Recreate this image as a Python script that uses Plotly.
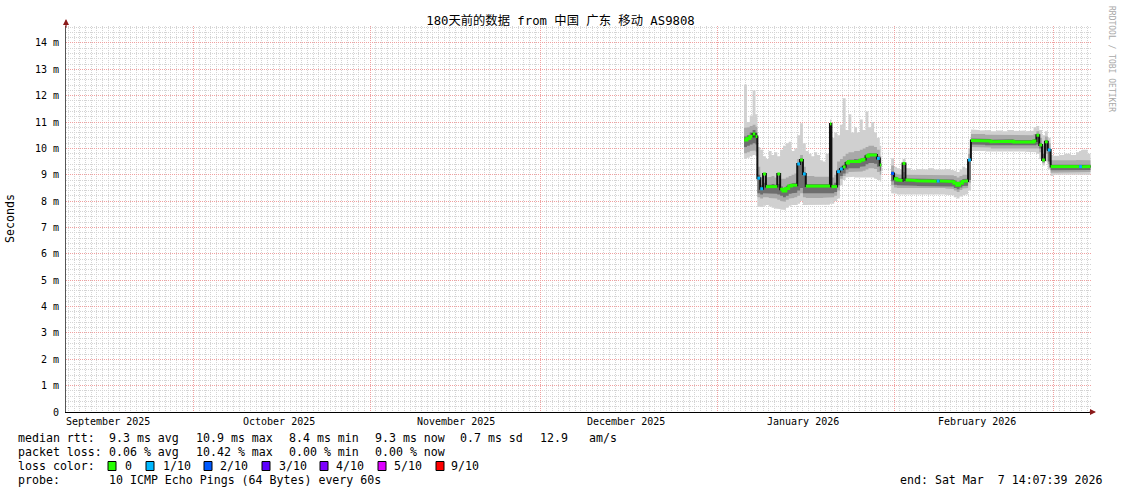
import plotly.graph_objects as go

# ---------------- data ----------------
title_text = "180天前的数据 from 中国 广东 移动 AS9808"
x_start = "2025-09-08 14:07:39"
x_end = "2026-03-07 14:07:39"

month_labels = ["September 2025", "October 2025", "November 2025",
                "December 2025", "January 2026", "February 2026"]
month_label_pos = ["2025-09-16", "2025-10-16", "2025-11-16",
                   "2025-12-16", "2026-01-16", "2026-02-15 12:00"]
month_starts = ["2025-10-01", "2025-11-01", "2025-12-01",
                "2026-01-01", "2026-02-01", "2026-03-01"]

y_tick_vals = list(range(15))
y_tick_text = ["0"] + [f"{v} m" for v in range(1, 15)]

# step intervals: value i holds from times[i] to times[i+1]; None = no data
times = [
    "2026-01-05 16:00", "2026-01-06 04:00", "2026-01-06 16:00", "2026-01-07 04:00", "2026-01-07 16:00",
    "2026-01-08 00:00", "2026-01-08 12:00", "2026-01-09 00:00", "2026-01-09 12:00", "2026-01-10 00:00",
    "2026-01-10 12:00", "2026-01-11 00:00", "2026-01-11 12:00", "2026-01-12 00:00", "2026-01-12 12:00",
    "2026-01-13 00:00", "2026-01-13 12:00", "2026-01-14 00:00", "2026-01-14 12:00", "2026-01-15 00:00",
    "2026-01-15 12:00", "2026-01-16 00:00", "2026-01-16 12:00", "2026-01-17 00:00", "2026-01-17 12:00",
    "2026-01-18 00:00", "2026-01-18 12:00", "2026-01-19 00:00", "2026-01-19 12:00", "2026-01-20 00:00",
    "2026-01-20 12:00", "2026-01-20 18:00", "2026-01-21 00:00", "2026-01-21 12:00",
    "2026-01-22 00:00", "2026-01-22 12:00", "2026-01-23 00:00", "2026-01-23 12:00", "2026-01-24 00:00",
    "2026-01-24 12:00", "2026-01-25 00:00", "2026-01-25 12:00", "2026-01-26 00:00", "2026-01-26 12:00",
    "2026-01-27 00:00", "2026-01-27 12:00", "2026-01-28 00:00", "2026-01-28 12:00", "2026-01-29 00:00",
    "2026-01-29 12:00", "2026-01-29 18:00",
    "2026-01-31 12:00", "2026-02-01 00:00", "2026-02-01 12:00", "2026-02-02 00:00", "2026-02-02 12:00",
    "2026-02-03 00:00", "2026-02-04 00:00", "2026-02-05 00:00", "2026-02-06 00:00", "2026-02-07 00:00",
    "2026-02-08 00:00", "2026-02-08 12:00", "2026-02-09 00:00", "2026-02-10 00:00", "2026-02-11 00:00",
    "2026-02-11 12:00", "2026-02-12 00:00", "2026-02-12 12:00", "2026-02-13 00:00", "2026-02-13 12:00",
    "2026-02-14 00:00",
    "2026-02-14 12:00", "2026-02-15 00:00", "2026-02-16 00:00", "2026-02-17 00:00", "2026-02-18 00:00",
    "2026-02-19 00:00", "2026-02-20 00:00", "2026-02-21 00:00", "2026-02-22 00:00", "2026-02-23 00:00",
    "2026-02-24 00:00", "2026-02-25 00:00", "2026-02-25 12:00", "2026-02-26 00:00", "2026-02-26 12:00",
    "2026-02-27 00:00", "2026-02-27 12:00", "2026-02-28 00:00",
    "2026-02-28 12:00", "2026-03-01 00:00", "2026-03-02 00:00", "2026-03-03 00:00", "2026-03-04 00:00",
    "2026-03-05 00:00", "2026-03-05 12:00", "2026-03-06 00:00", "2026-03-07 00:00", "2026-03-07 12:00",
]

median = [
    10.32, 10.38, 10.45, 10.55, 10.45,
    8.87, 8.47, 9.03, 8.55, 8.55, 8.57, 8.55, 9.03, 8.45, 8.38,
    8.48, 8.57, 8.60, 8.60, 9.41, 9.56, 9.03, 8.57, 8.57, 8.58,
    8.57, 8.57, 8.56, 8.57, 8.57, 8.57, 10.93, 8.55, 8.55,
    9.12, 9.22, 9.30, 9.45, 9.50, 9.50, 9.52, 9.50, 9.55, 9.58,
    9.70, 9.75, 9.76, 9.75, 9.62, 9.37, None,
    9.05, 8.85, 8.80, 8.78, 9.43, 8.80, 8.78, 8.77, 8.76, 8.76,
    8.75, 8.76, 8.76, 8.75, 8.74, 8.68, 8.60, 8.68, 8.75, 8.76, 9.56,
    10.30, 10.30, 10.30, 10.28, 10.25, 10.26, 10.25, 10.27, 10.24, 10.26,
    10.25, 10.24, 10.28, 10.50, 10.13, 9.56, 10.25, 9.94,
    9.31, 9.31, 9.31, 9.30, 9.31, 9.31, 9.31, 9.30, 9.31, None,
]

loss = [
    0, 0, 0, 0, 0,
    1, 1, 0, 0, 0, 0, 0, 0, 0, 0,
    0, 0, 0, 0, 1, 0, 1, 0, 0, 0,
    0, 0, 0, 0, 0, 0, 0, 0, 0,
    1, 1, 0, 0, 0, 0, 0, 0, 0, 0,
    0, 0, 0, 0, 1, 0, None,
    2, 0, 0, 0, 0, 0, 0, 0, 0, 0,
    0, 1, 0, 0, 0, 0, 0, 0, 0, 0, 1,
    0, 0, 0, 0, 0, 0, 0, 0, 0, 0,
    0, 0, 0, 0, 0, 0, 0, 1,
    0, 0, 0, 0, 0, 0, 1, 0, 0, None,
]

ping_min = [
    9.62, 9.65, 9.70, 9.75, 9.70,
    7.80, 7.78, 7.82, 7.85, 7.80, 7.75, 7.72, 7.70, 7.68, 7.66,
    7.75, 7.82, 7.85, 7.85, 7.90, 8.00, 7.85, 7.85, 7.85, 7.85,
    7.84, 7.85, 7.85, 7.86, 7.86, 7.86, 7.90, 7.90, 8.00,
    8.10, 8.60, 8.80, 8.90, 8.92, 8.92, 8.90, 8.90, 8.88, 8.88,
    8.88, 8.90, 8.90, 8.85, 8.80, 8.74, None,
    8.30, 8.28, 8.25, 8.25, 8.25, 8.25, 8.25, 8.23, 8.25, 8.24,
    8.25, 8.25, 8.25, 8.24, 8.22, 8.15, 8.10, 8.18, 8.22, 8.25, 8.40,
    9.90, 9.92, 9.90, 9.88, 9.88, 9.88, 9.87, 9.88, 9.86, 9.88,
    9.87, 9.86, 9.85, 9.80, 9.60, 9.35, 9.50, 9.20,
    8.95, 9.00, 9.00, 8.98, 9.00, 9.00, 9.00, 8.98, 9.00, None,
]

ping_q_lo = [
    9.82, 9.85, 9.90, 9.92, 9.88,
    8.15, 8.10, 8.15, 8.15, 8.12, 8.12, 8.10, 8.05, 8.00, 7.98,
    8.05, 8.10, 8.12, 8.15, 8.20, 8.30, 8.15, 8.12, 8.12, 8.12,
    8.12, 8.12, 8.12, 8.13, 8.13, 8.13, 8.15, 8.15, 8.20,
    8.40, 8.85, 8.95, 9.05, 9.10, 9.10, 9.10, 9.10, 9.12, 9.15,
    9.20, 9.25, 9.25, 9.22, 9.10, 9.00, None,
    8.60, 8.52, 8.50, 8.50, 8.50, 8.50, 8.50, 8.48, 8.50, 8.48,
    8.50, 8.50, 8.50, 8.48, 8.46, 8.40, 8.35, 8.42, 8.48, 8.50, 8.70,
    10.05, 10.05, 10.05, 10.03, 10.00, 10.02, 10.00, 10.02, 10.00, 10.02,
    10.00, 10.00, 10.00, 10.00, 9.85, 9.45, 9.80, 9.40,
    9.08, 9.10, 9.10, 9.08, 9.10, 9.10, 9.10, 9.08, 9.10, None,
]

ping_c_lo = [
    10.05, 10.10, 10.15, 10.20, 10.15,
    8.30, 8.25, 8.30, 8.30, 8.28, 8.30, 8.28, 8.25, 8.20, 8.15,
    8.20, 8.28, 8.30, 8.32, 8.40, 8.50, 8.30, 8.30, 8.30, 8.30,
    8.30, 8.30, 8.30, 8.30, 8.30, 8.30, 8.32, 8.30, 8.35,
    8.60, 8.95, 9.05, 9.20, 9.25, 9.25, 9.25, 9.25, 9.30, 9.32,
    9.40, 9.45, 9.45, 9.42, 9.30, 9.15, None,
    8.75, 8.62, 8.60, 8.58, 8.60, 8.58, 8.58, 8.57, 8.57, 8.57,
    8.56, 8.57, 8.57, 8.56, 8.55, 8.50, 8.45, 8.52, 8.57, 8.58, 8.80,
    10.15, 10.15, 10.14, 10.12, 10.10, 10.10, 10.10, 10.12, 10.10, 10.10,
    10.10, 10.10, 10.12, 10.15, 10.00, 9.50, 9.95, 9.50,
    9.17, 9.18, 9.18, 9.17, 9.18, 9.18, 9.18, 9.17, 9.18, None,
]

ping_c_hi = [
    10.45, 10.50, 10.60, 10.70, 10.60,
    9.00, 8.60, 8.70, 8.62, 8.62, 8.65, 8.62, 8.65, 8.55, 8.50,
    8.58, 8.65, 8.68, 8.70, 9.45, 9.62, 9.10, 8.65, 8.65, 8.65,
    8.65, 8.65, 8.64, 8.64, 8.65, 8.65, 8.70, 8.62, 8.70,
    9.20, 9.30, 9.38, 9.52, 9.57, 9.57, 9.60, 9.58, 9.62, 9.65,
    9.78, 9.82, 9.83, 9.82, 9.70, 9.45, None,
    9.12, 8.92, 8.88, 8.86, 8.90, 8.86, 8.85, 8.85, 8.84, 8.84,
    8.83, 8.84, 8.84, 8.83, 8.82, 8.78, 8.70, 8.78, 8.84, 8.85, 9.60,
    10.38, 10.38, 10.37, 10.36, 10.33, 10.34, 10.33, 10.35, 10.32, 10.34,
    10.33, 10.32, 10.36, 10.55, 10.20, 9.80, 10.30, 10.00,
    9.38, 9.38, 9.38, 9.37, 9.38, 9.38, 9.38, 9.37, 9.38, None,
]

ping_q_hi = [
    10.78, 10.80, 10.85, 10.90, 10.82,
    9.30, 8.90, 8.95, 8.90, 8.92, 8.95, 8.90, 8.95, 8.85, 8.85,
    8.90, 8.95, 9.00, 9.05, 9.60, 9.75, 9.30, 8.95, 8.95, 8.95,
    8.92, 8.92, 8.90, 8.90, 8.92, 8.92, 9.00, 8.90, 9.00,
    9.50, 9.60, 9.70, 9.80, 9.85, 9.85, 9.90, 9.90, 9.95, 10.00,
    10.05, 10.10, 10.10, 10.05, 9.95, 9.70, None,
    9.35, 9.05, 9.02, 9.00, 9.10, 9.00, 9.00, 9.00, 9.00, 8.98,
    9.00, 9.00, 9.00, 8.98, 8.98, 8.95, 8.90, 8.95, 9.00, 9.00, 9.80,
    10.55, 10.55, 10.55, 10.52, 10.50, 10.50, 10.50, 10.52, 10.50, 10.50,
    10.50, 10.50, 10.55, 10.65, 10.40, 10.10, 10.45, 10.20,
    9.55, 9.55, 9.55, 9.53, 9.55, 9.56, 9.56, 9.55, 9.55, None,
]

ping_max = [
    12.42, 11.00, 11.25, 12.20, 11.30,
    10.05, 9.95, 9.70, 9.60, 9.90, 9.75, 9.85, 9.70, 9.95, 10.10,
    10.20, 10.25, 9.90, 10.00, 10.50, 10.95, 10.20, 9.90, 9.80, 9.70,
    9.85, 9.75, 9.55, 9.50, 9.80, 9.80, 11.10, 10.40, 10.60,
    10.50, 10.90, 11.90, 10.70, 11.30, 10.60, 10.80, 10.60, 11.10, 10.70,
    11.40, 10.80, 11.00, 10.60, 10.40, 10.10, None,
    9.63, 9.30, 9.25, 9.20, 9.60, 9.25, 9.18, 9.22, 9.20, 9.25,
    9.20, 9.18, 9.20, 9.22, 9.18, 9.15, 9.10, 9.20, 9.30, 9.25, 10.00,
    10.72, 10.70, 10.68, 10.70, 10.65, 10.68, 10.65, 10.70, 10.66, 10.68,
    10.65, 10.67, 10.80, 10.85, 10.70, 10.50, 10.65, 10.40,
    9.75, 9.72, 9.75, 9.80, 9.75, 9.85, 9.90, 9.95, 9.80, None,
]

loss_classes = [0, 1, 2, 3, 4, 5, 9]
loss_labels = ["0", "1/10", "2/10", "3/10", "4/10", "5/10", "9/10"]
loss_colors = ["#26ff00", "#00b8ff", "#0059ff", "#5e00ff", "#7e00ff", "#dd00ff", "#ff0000"]

legend_rtt = [("median rtt:", 16), ("9.3 ms avg", 107), ("10.9 ms max", 194),
              ("8.4 ms min", 287), ("9.3 ms now", 372.5), ("0.7 ms sd", 458),
              ("12.9", 537.5), ("am/s", 587)]
legend_loss = [("packet loss:", 16), ("0.06 % avg", 107), ("10.42 % max", 194),
               ("0.00 % min", 287), ("0.00 % now", 372.5)]
probe_text = "10 ICMP Echo Pings (64 Bytes) every 60s"
end_text = "end: Sat Mar\u00a0 7 14:07:39 2026"
watermark = "RRDTOOL / TOBI OETIKER"

# ---------------- layout geometry (pixels) ----------------
W, H = 1121, 494
PL, PR, PT, PB = 66, 1091, 26, 412
MONO = "DejaVu Sans Mono, monospace"
MINOR_GRID = "#d4d4d4"
MAJOR_GRID = "#f0a0a0"
JUMP = 0.1  # median steps larger than this show the dark median line


def px_x(x):
    return (x - PL) / (PR - PL)


def px_y(y):
    return (PB - y) / (PB - PT)


def runs(vals):
    out, cur = [], []
    for i, v in enumerate(vals[:-1]):
        if v is None:
            if cur:
                out.append(cur)
            cur = []
        else:
            cur.append(i)
    if cur:
        out.append(cur)
    return out


fig = go.Figure()
segs = runs(median)


def band(lo, hi, color):
    for run in segs:
        xs, ys = [], []
        for i in run:
            xs += [times[i], times[i + 1]]
            ys += [hi[i], hi[i]]
        for i in reversed(run):
            xs += [times[i + 1], times[i]]
            ys += [lo[i], lo[i]]
        fig.add_trace(go.Scatter(x=xs, y=ys, fill="toself", fillcolor=color,
                                 mode="lines", line=dict(width=0),
                                 hoverinfo="skip", showlegend=False))


band(ping_min, ping_max, "#d0d0d0")
band(ping_q_lo, ping_q_hi, "#a9a9a9")
band(ping_c_lo, ping_c_hi, "#6e6e6e")

# median line (dark, with vertical steps)
mx, my = [], []
for run in segs:
    for i in run:
        mx += [times[i], times[i + 1]]
        my += [median[i], median[i]]
    mx.append(None)
    my.append(None)
fig.add_trace(go.Scatter(x=mx, y=my, mode="lines", line=dict(color="#111111", width=2),
                         hoverinfo="skip", showlegend=False))

# loss-coloured median, continuous while class stays the same and the step is small
for cls, col in zip(loss_classes, loss_colors):
    xs, ys = [], []
    for run in segs:
        prev = None
        for i in run:
            if loss[i] != cls:
                if prev is not None:
                    xs.append(None)
                    ys.append(None)
                prev = None
                continue
            if prev is not None and abs(median[i] - median[prev]) > JUMP:
                xs.append(None)
                ys.append(None)
            xs += [times[i], times[i + 1]]
            ys += [median[i], median[i]]
            prev = i
        xs.append(None)
        ys.append(None)
    if any(v is not None for v in xs):
        fig.add_trace(go.Scatter(x=xs, y=ys, mode="lines",
                                 line=dict(color=col, width=3),
                                 hoverinfo="skip", showlegend=False))

shapes = []
annotations = []

# month labels (centred mid-month, below the axis)
for lab, pos in zip(month_labels, month_label_pos):
    annotations.append(dict(text=lab, xref="x", yref="paper", x=pos, y=px_y(421),
                            xanchor="center", yanchor="middle", showarrow=False,
                            font=dict(family=MONO, size=10, color="#000000")))

# loss color legend boxes
label_x = [123, 161, 218, 277, 334, 392, 449]
box_x = [108, 146, 204, 262, 320, 378, 436]
ROW = [438, 452, 466, 480]
legend_ann = []
for bx, lx, lab, col in zip(box_x, label_x, loss_labels, loss_colors):
    shapes.append(dict(type="rect", xref="paper", yref="paper",
                       x0=px_x(bx), x1=px_x(bx + 8), y0=px_y(ROW[2] + 4.5), y1=px_y(ROW[2] - 4.5),
                       fillcolor=col, line=dict(color="#000000", width=1)))
    legend_ann.append(dict(text=lab, x=px_x(lx), y=px_y(ROW[2])))

for txt, xx in legend_rtt:
    legend_ann.append(dict(text=txt, x=px_x(xx), y=px_y(ROW[0])))
for txt, xx in legend_loss:
    legend_ann.append(dict(text=txt, x=px_x(xx), y=px_y(ROW[1])))
legend_ann.append(dict(text="loss color:", x=px_x(16), y=px_y(ROW[2])))
legend_ann.append(dict(text="probe:", x=px_x(16), y=px_y(ROW[3])))
legend_ann.append(dict(text=probe_text, x=px_x(107), y=px_y(ROW[3])))
legend_ann.append(dict(text=end_text, x=px_x(1104), y=px_y(ROW[3]), xanchor="right"))

for a in legend_ann:
    a.setdefault("xanchor", "left")
    a.update(xref="paper", yref="paper", showarrow=False, yanchor="middle",
             font=dict(family=MONO, size=11.6, color="#000000"))
annotations += legend_ann

# y-axis title
annotations.append(dict(text="Seconds", xref="paper", yref="paper", x=px_x(10), y=px_y(219),
                        textangle=-90, showarrow=False, xanchor="center", yanchor="middle",
                        font=dict(family=MONO, size=11.6, color="#000000")))
# watermark
annotations.append(dict(text=watermark, xref="paper", yref="paper", x=px_x(1111), y=px_y(59),
                        textangle=90, showarrow=False, xanchor="center", yanchor="middle",
                        font=dict(family=MONO, size=8, color="#a8a8a8")))
# axis arrows
annotations.append(dict(text="", xref="paper", yref="paper", x=0, y=px_y(19), ax=0, ay=10,
                        showarrow=True, arrowhead=2, arrowsize=1, arrowwidth=1.2, arrowcolor="#8b1a1a"))
annotations.append(dict(text="", xref="paper", yref="paper", x=px_x(1096), y=0, ax=-8, ay=0,
                        showarrow=True, arrowhead=2, arrowsize=1, arrowwidth=1.2, arrowcolor="#8b1a1a"))

fig.update_layout(
    width=W, height=H,
    margin=dict(l=PL, r=W - PR, t=PT, b=H - PB, pad=0),
    paper_bgcolor="#ffffff", plot_bgcolor="#ffffff",
    showlegend=False,
    title=dict(text=title_text, x=0.5, xref="container", xanchor="center",
               y=1 - 21 / H, yref="container", yanchor="middle",
               font=dict(family="DejaVu Sans Mono, Noto Sans CJK SC", size=12.3, color="#000000")),
    shapes=shapes,
    annotations=annotations,
    xaxis=dict(type="date", range=[x_start, x_end], tickmode="array",
               tickvals=month_starts, ticktext=[""] * len(month_starts), ticks="",
               showgrid=True, gridcolor=MAJOR_GRID, griddash="1px,1px", gridwidth=1,
               zeroline=False, showline=True, linecolor="#000000", linewidth=1,
               showticklabels=False,
               minor=dict(dtick=86400000, tick0="2025-09-01", showgrid=True,
                          gridcolor=MINOR_GRID, griddash="1px,1px", gridwidth=1),
               fixedrange=True),
    yaxis=dict(range=[0, (PB - PT) / 26.36], tickmode="array", tickvals=y_tick_vals,
               ticktext=y_tick_text, ticks="", showgrid=True, gridcolor=MAJOR_GRID,
               griddash="1px,1px", gridwidth=1, zeroline=False, showline=True,
               linecolor="#555555", linewidth=1, ticklabelstandoff=4,
               tickfont=dict(family=MONO, size=10, color="#000000"),
               minor=dict(dtick=0.2, showgrid=True, gridcolor=MINOR_GRID,
                          griddash="1px,1px", gridwidth=1),
               fixedrange=True),
)

fig.write_html("out.html", post_script="document.body.style.margin='0px';",
               config={"displayModeBar": False, "staticPlot": True})
